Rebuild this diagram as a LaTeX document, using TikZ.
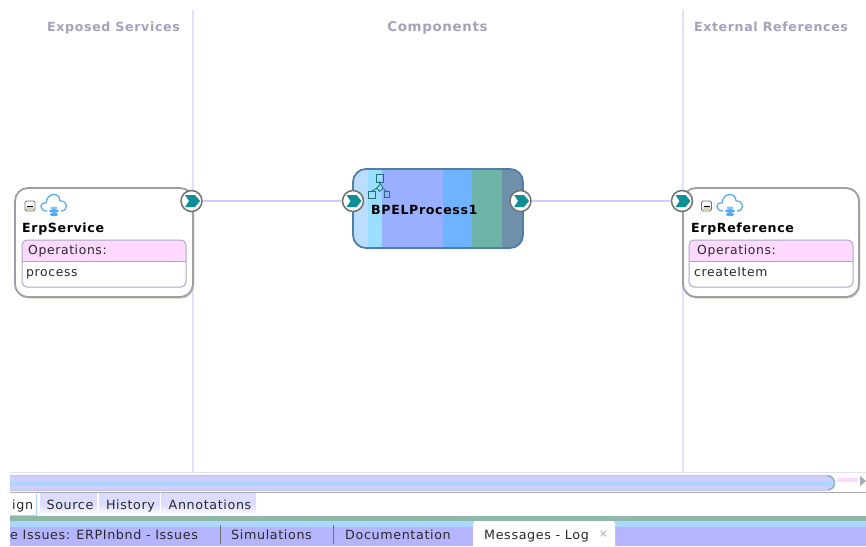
\documentclass[tikz,border=0pt]{standalone}
\usepackage{fontspec}
\setmainfont{DejaVu Sans}[LetterSpace=5]
\usetikzlibrary{calc}
\definecolor{hdrgrey}{HTML}{A3A3BC}
\definecolor{vline}{HTML}{E0E0FF}
\definecolor{wire}{HTML}{CCCCFF}
\definecolor{boxedge}{HTML}{A09CA8}
\definecolor{boxtan}{HTML}{DDD5B8}
\definecolor{innerE}{HTML}{AAA8C4}
\definecolor{pinkH}{HTML}{FFD9FF}
\definecolor{teal1}{HTML}{0F8F95}
\definecolor{ringC}{HTML}{6E7470}
\definecolor{cloudB}{HTML}{4FA8F0}
\definecolor{bandG}{HTML}{8FB8A8}
\definecolor{bandB}{HTML}{ADD6FF}
\definecolor{bandP}{HTML}{B5B5FF}
\definecolor{tabF}{HTML}{DCDCFF}
\definecolor{txt}{HTML}{2A2A2A}
\definecolor{s1}{HTML}{BBDDFF}
\definecolor{s2}{HTML}{9ADFFF}
\definecolor{s3}{HTML}{99AFFF}
\definecolor{s4}{HTML}{6EB3FF}
\definecolor{s5}{HTML}{6DB3A8}
\definecolor{s6}{HTML}{6E90AA}
\definecolor{bpelE}{HTML}{4F7FA8}
\definecolor{sbL}{HTML}{CFCFFF}
\definecolor{sbE}{HTML}{C0C0F0}
\definecolor{greyL}{HTML}{A8A8B0}
\definecolor{iconE}{HTML}{1F7278}
\tikzset{
  x=1pt,y=-1pt,
  evenH/.style={text height=11pt,text depth=2pt},
  hdr/.style={font=\fontsize{12.6}{14}\selectfont\bfseries,text=hdrgrey,inner sep=0pt,evenH},
  ttl/.style={font=\fontsize{12.6}{14}\selectfont\bfseries,text=black,inner sep=0pt,anchor=west,evenH},
  small/.style={font=\fontsize{12.4}{14}\selectfont,text=txt,inner sep=0pt,anchor=west,evenH},
  tabt/.style={font=\fontsize{12.7}{14}\selectfont,text=txt,inner sep=0pt,evenH},
  tabbox/.style={top color=tabF,bottom color=white,middle color=tabF,draw=none},
  rail/.style={draw=vline,line width=1.2pt},
  wireL/.style={draw=wire,line width=2.6pt},
  port/.style={circle,draw=ringC,fill=white,line width=1.5pt,minimum size=21pt,inner sep=0pt},
}
\newcommand{\chev}[2]{\fill[teal1] ($(#1,#2)+(-6.5,-6)$) -- ++(10,0) -- ++(5,6) -- ++(-5,6) -- ++(-10,0) -- ++(4,-6) -- cycle;}
\newcommand{\cloudic}[2]{%
  \draw[cloudB,line width=1.2pt,line join=round] (#1-7,#2+5) .. controls (#1-15,#2+5) and (#1-15,#2-4) .. (#1-8,#2-3)
    .. controls (#1-7,#2-14) and (#1+6,#2-14) .. (#1+6,#2-5)
    .. controls (#1+14,#2-6) and (#1+15,#2+5) .. (#1+7,#2+5);
  \fill[cloudB!70] (#1,#2+2) ellipse (3.5pt and 1.5pt);
  \fill[cloudB] (#1,#2+5) ellipse (5pt and 1.8pt);
  \fill[cloudB] (#1,#2+8.5) ellipse (4pt and 1.7pt);}
\newcommand{\minusic}[2]{%
  \draw[ringC,line width=.8pt,fill=white,rounded corners=1.5pt] (#1-5,#2-5) rectangle (#1+5,#2+5);
  \fill[boxtan] (#1-4,#2+1) rectangle (#1+4,#2+4);
  \draw[black,line width=1pt] (#1-3,#2) -- (#1+3,#2);}
\begin{document}
\begin{tikzpicture}
\useasboundingbox (0,0) rectangle (866,546);
\fill[white] (0,0) rectangle (866,546);
% headers
\node[hdr] (h1) at (113.5,26.5) {Exposed Services};
\node[hdr,font=\fontsize{13.4}{14}\selectfont\bfseries] (h2) at (437.5,26.5) {Components};
\node[hdr] (h3) at (771,26.5) {External References};
% rails
\coordinate (r1t) at (193,10); \coordinate (r1b) at (193,472);
\coordinate (r2t) at (683,10); \coordinate (r2b) at (683,472);
\draw[rail] (r1t) -- (r1b);
\draw[rail] (r2t) -- (r2b);
% service box
\draw[boxtan,line width=1pt,rounded corners=13pt] (15.9,188.9) rectangle (193.9,298.2);
\draw[boxedge,line width=1.8pt,fill=white,rounded corners=13pt] (15,188) rectangle (193,297);
\begin{scope}
\clip[rounded corners=5pt] (22,240) rectangle (186,287);
\fill[pinkH] (22,240) rectangle (186,261);
\end{scope}
\draw[innerE,line width=1pt,rounded corners=5pt] (22,240) rectangle (186,287);
\draw[innerE,line width=1pt] (22,261) -- (186,261);
\minusic{30}{206}
\cloudic{54}{206}
\node[ttl] (t1) at (22,228) {ErpService};
\node[small] (o1) at (28,250) {Operations:};
\node[small] (p1) at (26,271.5) {process};
% reference box
\draw[boxtan,line width=1pt,rounded corners=13pt] (683.9,188.9) rectangle (859.9,298.2);
\draw[boxedge,line width=1.8pt,fill=white,rounded corners=13pt] (683,188) rectangle (859,297);
\begin{scope}
\clip[rounded corners=5pt] (689,240) rectangle (853,287);
\fill[pinkH] (689,240) rectangle (853,261);
\end{scope}
\draw[innerE,line width=1pt,rounded corners=5pt] (689,240) rectangle (853,287);
\draw[innerE,line width=1pt] (689,261) -- (853,261);
\minusic{706.5}{206}
\cloudic{730}{206}
\node[ttl] (t3) at (691,228) {ErpReference};
\node[small] (o3) at (697,250) {Operations:};
\node[small] (p3) at (694,271.5) {createItem};
% BPEL box
\begin{scope}
\clip[rounded corners=13pt] (353,169) rectangle (523,248);
\fill[s1] (353,169) rectangle (368,248);
\fill[s2] (368,169) rectangle (382,248);
\fill[s3] (382,169) rectangle (443,248);
\fill[s4] (443,169) rectangle (472,248);
\fill[s5] (472,169) rectangle (502,248);
\fill[s6] (502,169) rectangle (523,248);
\end{scope}
\draw[bpelE,line width=1.8pt,rounded corners=13pt] (353,169) rectangle (523,248);
% process icon
\draw[iconE,line width=.9pt] (376,174.5) rectangle (383.5,182);
\draw[iconE,line width=.9pt] (368.5,191) rectangle (375,198);
\draw[iconE,line width=.9pt] (384.5,191.5) rectangle (389.5,197);
\draw[iconE,line width=.8pt] (379.7,182) -- (379.7,185) -- (376.5,188.2) -- (379.7,191.4) -- (382.9,188.2) -- cycle (376.5,188.2) -- (372,191) (382.9,188.2) -- (387,191.5);
\node[ttl] (t2) at (371,210) {BPELProcess1};
% ports
\node[port] (pa) at (191.5,201) {};
\node[port] (pb) at (353,201) {};
\node[port] (pc) at (520.5,201) {};
\node[port] (pd) at (682,201) {};
\draw[wireL] (pa) -- (pb);
\draw[wireL] (pc) -- (pd);
\chev{191.5}{201}
\chev{353}{201}
\chev{520.5}{201}
\chev{682}{201}
% scrollbar
\draw[vline,line width=.9pt] (10,472.5) -- (866,472.5);
\fill[sbL] (10,475) -- (826,475) .. controls (838,475) and (838,490) .. (826,490) -- (10,490) -- cycle;
\fill[bandB] (10,481) rectangle (832,486);
\draw[sbE,line width=.8pt] (10,475) -- (826,475);
\draw[sbE,line width=.8pt] (10,490) -- (826,490);
\draw[bandG!70!s4,line width=1.5pt] (827,475.5) .. controls (837,476) and (837,490) .. (827,490);
\fill[pinkH] (837,478) rectangle (858,482);
\fill[greyL!80!bandG] (860,476) -- (866,481) -- (860,486) -- cycle;
\fill[greyL] (10,491.7) rectangle (866,493);
% editor tabs
\fill[tabbox] (40,493.5) rectangle (97,515);
\fill[tabbox] (99,493.5) rectangle (160,515);
\fill[tabbox] (161.5,493.5) rectangle (256,515);
\draw[bandB,line width=.8pt] (10,515) -- (36.5,515) -- (36.5,494);
\node[tabt,anchor=west] (tb1) at (12,504.5) {ign};
\node[tabt] (tb2) at (70,504.5) {Source};
\node[tabt] (tb3) at (130.5,504.5) {History};
\node[tabt] (tb4) at (210,504.5) {Annotations};
% bottom bands
\fill[bandG] (10,516) rectangle (866,521);
\fill[bandB] (10,521) rectangle (866,527);
\fill[bandP] (10,527) rectangle (866,546);
\begin{scope}
\clip (0,0) rectangle (866,546);
\fill[white,rounded corners=3pt] (473,521) rectangle (615,556);
\end{scope}
\draw[ringC,line width=.7pt] (220,525) -- (220,544) (333.5,525) -- (333.5,544);
\node[tabt,anchor=west] (b1) at (10,534.5) {e Issues: ERPInbnd - Issues};
\node[tabt,anchor=west] (b2) at (231,534.5) {Simulations};
\node[tabt,anchor=west] (b3) at (345,534.5) {Documentation};
\node[tabt,anchor=west] (b4) at (484,534.5) {Messages - Log};
\node[font=\fontsize{11}{12}\selectfont,text=greyL,inner sep=0pt] (bx) at (603.5,534.5) {×};
\end{tikzpicture}
\end{document}
